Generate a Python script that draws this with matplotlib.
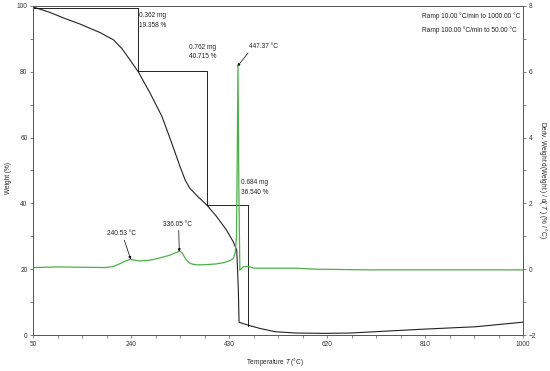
import numpy as np
import matplotlib
matplotlib.use("Agg")
import matplotlib.pyplot as plt
from matplotlib.ticker import FixedLocator, MultipleLocator

plt.rcParams['font.family'] = ['Liberation Sans', 'DejaVu Sans']
plt.rcParams['mathtext.fontset'] = 'custom'
plt.rcParams['mathtext.rm'] = 'Liberation Sans'
plt.rcParams['mathtext.it'] = 'Liberation Sans:italic'

# TGA curve: temperature (°C) vs weight (%)
tga_T = [50, 80, 110, 141, 180, 206, 222, 238, 254, 277, 300, 319, 335, 345,
         354, 370, 387, 406, 425, 438, 445, 448, 449.5, 455, 467, 490, 519,
         560, 616, 665, 713, 810, 907, 1000]
tga_W = [99.7, 98.2, 96.3, 94.5, 91.9, 89.7, 87.1, 83.6, 80.0, 73.5, 66.4,
         58.3, 51.2, 47.1, 44.6, 42.0, 39.5, 36.0, 31.9, 28.4, 25.8, 14.0,
         3.9, 3.6, 3.0, 2.0, 1.0, 0.6, 0.5, 0.6, 1.0, 1.8, 2.5, 3.9]

# DTG curve: temperature (°C) vs deriv. weight (%/°C)
dtg_T = [50, 100, 141, 190, 205, 216, 228, 238, 245, 257, 275, 290, 305, 316, 326,
         332, 335, 340, 344, 348, 354, 360, 370, 387, 405, 420, 432, 438, 442,
         444.5, 446, 447.37, 449, 451, 453, 458, 467, 480, 500, 560, 600, 700,
         800, 900, 1000]
dtg_D = [0.05, 0.07, 0.06, 0.05, 0.08, 0.15, 0.24, 0.30, 0.28, 0.25, 0.27, 0.32,
         0.38, 0.43, 0.50, 0.53, 0.55, 0.48, 0.36, 0.27, 0.18, 0.15, 0.13, 0.14,
         0.16, 0.20, 0.26, 0.32, 0.50, 1.0, 3.5, 6.2, 2.5, -0.03, 0.0, 0.08, 0.08,
         0.03, 0.03, 0.03, 0.0, -0.02, -0.02, -0.02, -0.02]

# weight-loss steps
step_T = [50, 254, 387, 467]
step_W = [99.5, 80.14, 39.43, 2.89]
step_labels = ["0.362 mg\n19.358 %", "0.762 mg\n40.715 %", "0.684 mg\n36.540 %"]

peak_labels = ["240.53 °C", "336.05 °C", "447.37 °C"]
ramp_lines = ["Ramp 10.00 °C/min to 1000.00 °C", "Ramp 100.00 °C/min to 50.00 °C"]

x_ticks = [50, 240, 430, 620, 810, 1000]

fs = 4.7
green = '#4daf4a'

fig = plt.figure(figsize=(5.5, 3.71), dpi=100)
ax = fig.add_axes([0.06, 0.097, 0.891, 0.887])
ax2 = ax.twinx()

ax.plot(tga_T, tga_W, color='#222222', lw=0.8)
ax.step(step_T, step_W, where='post', color='black', lw=0.6)
ax2.plot(dtg_T, dtg_D, color=green, lw=0.9)

ax.set_xlim(50, 1000)
ax.set_ylim(0, 100)
ax2.set_ylim(-2, 8)

ax.xaxis.set_major_locator(FixedLocator(x_ticks))
ax.xaxis.set_minor_locator(FixedLocator(np.arange(50, 1001, 47.5)))
ax.yaxis.set_major_locator(MultipleLocator(20))
ax.yaxis.set_minor_locator(MultipleLocator(10))
ax2.yaxis.set_major_locator(MultipleLocator(2))
ax2.yaxis.set_minor_locator(MultipleLocator(1))

for a in (ax, ax2):
    a.tick_params(which='both', direction='out', length=2.5, width=0.5,
                  colors='#555555', labelsize=fs, labelcolor='#333333', pad=1.5)
    for s in a.spines.values():
        s.set_linewidth(0.6)
        s.set_color('#555555')

ax.set_xlabel('Temperature $T$ (°C)', fontsize=fs, color='#222222')
ax.xaxis.set_label_coords(0.494, -0.082)
ax.xaxis.label.set_va('center')
ax.set_ylabel('Weight (%)', fontsize=fs, color='#222222')
ax.yaxis.set_label_coords(-0.051, 0.477)
ax.yaxis.label.set_va('center')
ax2.set_ylabel('Deriv. Weight d(Weight ) / d( $T$ ) (% / °C)', fontsize=fs,
               color='#222222', rotation=270)
ax2.yaxis.set_label_coords(1.041, 0.471)
ax2.yaxis.label.set_va('center')

# step annotations
ax.text(255.5, 95.6, step_labels[0], fontsize=fs, ha='left', va='center',
        linespacing=1.45, color='#222222')
ax.text(379.6, 85.9, step_labels[1], fontsize=fs, ha='center', va='center',
        linespacing=1.45, color='#222222')
ax.text(453.3, 44.8, step_labels[2], fontsize=fs, ha='left', va='center',
        linespacing=1.45, color='#222222')

# peak annotations
arrow = dict(arrowstyle='-|>', color='black', lw=0.5, mutation_scale=4,
             shrinkA=0, shrinkB=0)
ax.annotate(peak_labels[0], xy=(239.4, 23.0), xytext=(222.5, 30.7),
            fontsize=fs, ha='center', va='center', color='#222222',
            arrowprops=dict(arrow, relpos=(0.55, 0)))
ax.annotate(peak_labels[1], xy=(333.6, 25.3), xytext=(329.6, 33.7),
            fontsize=fs, ha='center', va='center', color='#222222',
            arrowprops=dict(arrow, relpos=(0.55, 0)))
ax.annotate(peak_labels[2], xy=(446.1, 81.6), xytext=(496.5, 87.6),
            fontsize=fs, ha='center', va='center', color='#222222',
            arrowprops=dict(arrow, relpos=(0.05, 0)))

ax.text(803.6, 97.0, ramp_lines[0], fontsize=fs, ha='left', va='center', color='#222222')
ax.text(803.6, 92.7, ramp_lines[1], fontsize=fs, ha='left', va='center', color='#222222')

fig.savefig('out.png', dpi=100)
